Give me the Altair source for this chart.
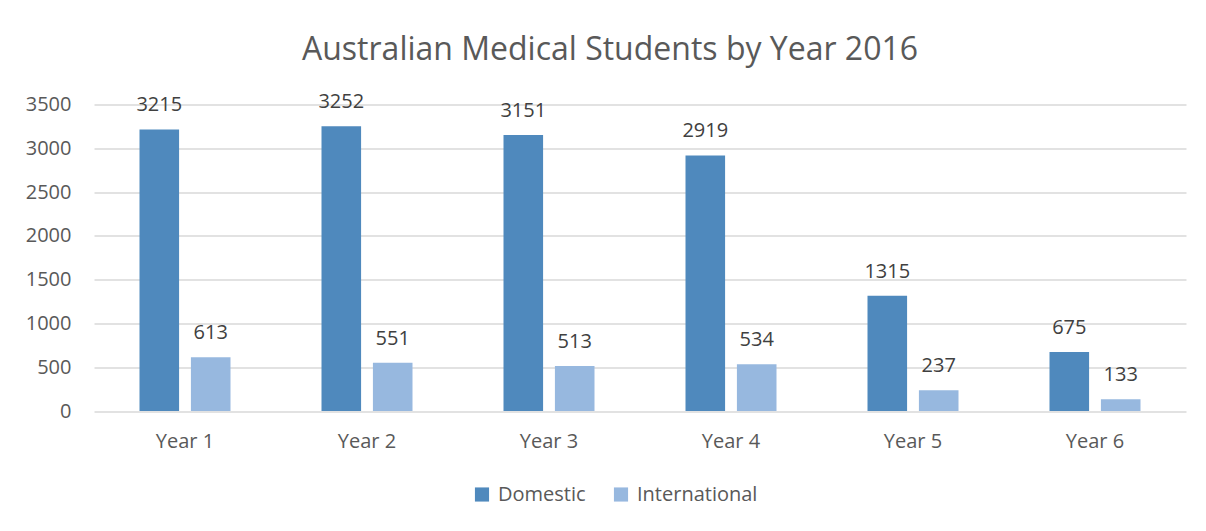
import altair as alt
import pandas as pd

years = ["Year 1", "Year 2", "Year 3", "Year 4", "Year 5", "Year 6"]
domestic = [3215, 3252, 3151, 2919, 1315, 675]
international = [613, 551, 513, 534, 237, 133]
series = ["Domestic", "International"]
colors = ["#4f89bd", "#97b8df"]

rows = []
for y, d, i in zip(years, domestic, international):
    rows.append({"year": y, "series": "Domestic", "value": d})
    rows.append({"year": y, "series": "International", "value": i})
df = pd.DataFrame(rows)

FONT = "Open Sans"

x = alt.X("year:N", sort=years, title=None,
          scale=alt.Scale(paddingInner=0.5, paddingOuter=0.25),
          axis=alt.Axis(labelAngle=0, labelFont=FONT, labelFontSize=20, labelColor="#595959",
                        labelPadding=20, ticks=False, domain=False, grid=False))
xo = alt.XOffset("series:N", sort=series, scale=alt.Scale(paddingInner=0.23, paddingOuter=0))
y = alt.Y("value:Q", title=None,
          scale=alt.Scale(domain=[0, 3500], nice=False),
          axis=alt.Axis(values=[0, 500, 1000, 1500, 2000, 2500, 3000, 3500], format="d",
                        labelFont=FONT, labelFontSize=20, labelColor="#595959",
                        labelPadding=23, ticks=False, domain=False,
                        gridColor="#d9d9d9", gridWidth=1.5))

bars = alt.Chart(df).mark_bar().encode(
    x=x, xOffset=xo, y=y,
    color=alt.Color("series:N", sort=series, title=None,
                    scale=alt.Scale(domain=series, range=colors),
                    legend=alt.Legend(orient="none", direction="horizontal",
                                      legendX=378, legendY=380,
                                      symbolType="square", symbolSize=200,
                                      symbolStrokeWidth=0,
                                      labelFont=FONT, labelFontSize=20, labelColor="#595959",
                                      labelOffset=6, columnPadding=25))
)

labels = alt.Chart(df).mark_text(font=FONT, fontSize=20, color="#404040",
                                 baseline="alphabetic", dy=-18).encode(
    x=x, xOffset=xo, y=y, text=alt.Text("value:Q")
)

chart = alt.layer(bars, labels).properties(
    width=1092, height=306.5,
    title=alt.TitleParams("Australian Medical Students by Year 2016",
                          font=FONT, fontSize=32, fontWeight="normal", color="#595959",
                          anchor="middle", frame="group", baseline="alphabetic",
                          offset=0, dx=-30),
    autosize=alt.AutoSizeParams(type="none"),
    padding={"left": 86, "top": 96.5, "right": 10, "bottom": 112},
    background="white",
).configure_view(stroke=None)

chart.save("out.html", embed_options={"renderer": "svg", "actions": False})
